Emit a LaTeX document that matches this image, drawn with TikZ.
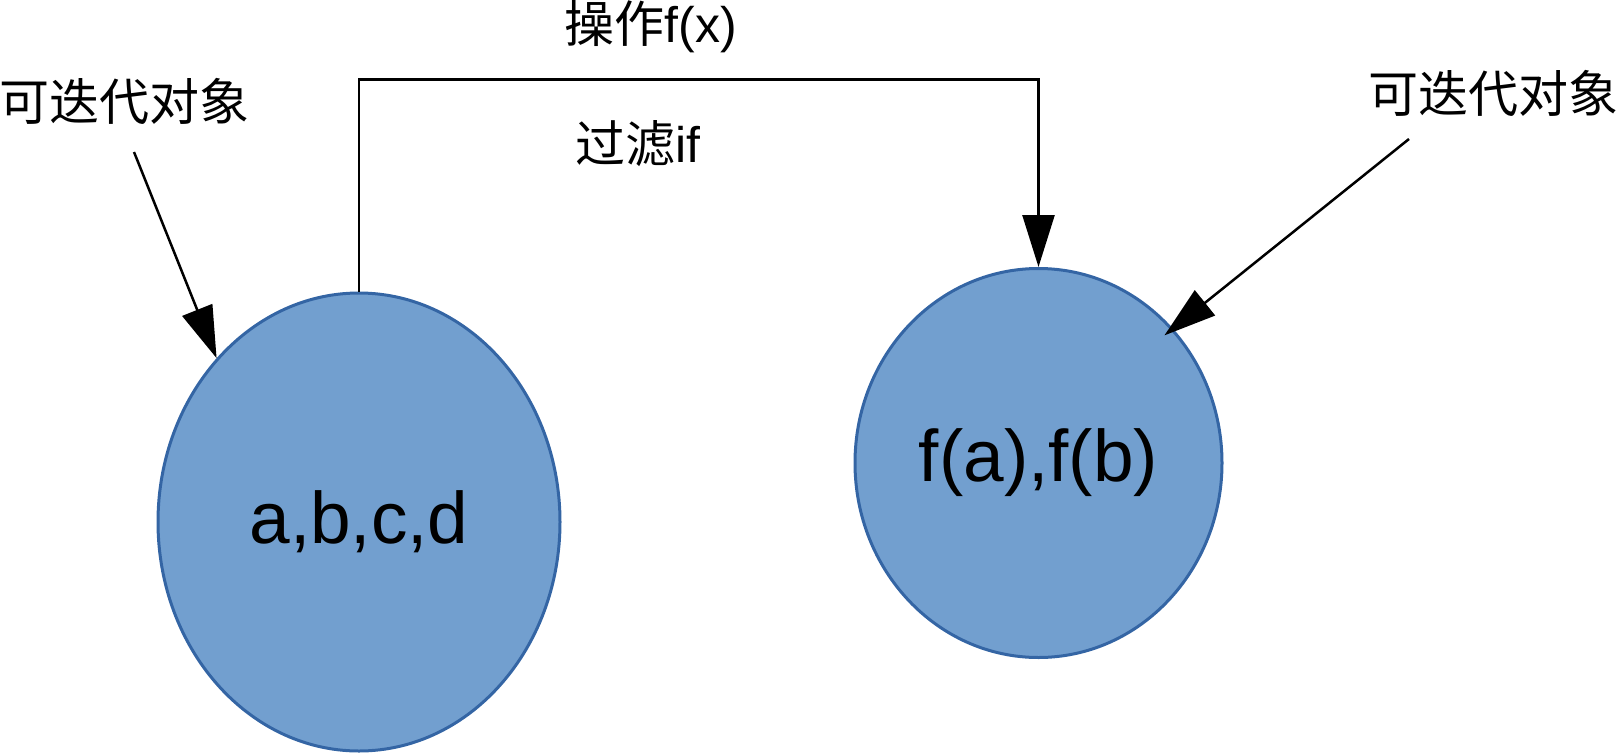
\documentclass[tikz,border=0pt]{standalone}
\usepackage{fontspec}
\setmainfont{Liberation Sans}
\newfontfamily\cjk{Noto Sans CJK SC}
\usetikzlibrary{shapes.geometric,arrows.meta}
\definecolor{blobfill}{HTML}{729FCF}
\definecolor{blobline}{HTML}{3465A4}
\tikzset{
  blob/.style={ellipse, draw=blobline, line width=3pt, fill=blobfill, inner sep=0pt,
    font=\fontsize{73}{80}\selectfont},
  lbl/.style={inner sep=0pt, font=\fontsize{50}{56}\selectfont},
  conn/.style={line width=2.5pt, draw=black, -{Triangle[length=52pt,width=32pt]}},
}
\begin{document}
\begin{tikzpicture}[x=1pt,y=-1pt]
\useasboundingbox (0,0) rectangle (1619,755);
\node[blob, minimum width=402pt, minimum height=458pt] (A) at (359,522) {a,b,c,d};
\node[blob, minimum width=367pt, minimum height=389pt] (B) at (1038.5,463) {f(a),f(b)};
\node[lbl] (la) at (124,101) {\cjk 可迭代对象};
\node[lbl] (ra) at (1493,93) {\cjk 可迭代对象};
\node[lbl] (op) at (651,27) {{\cjk 操作}f(x)};
\node[lbl] (flt) at (638,144) {{\cjk 过滤}if};
\coordinate (ls) at (134,152);
\coordinate (rs) at (1409,139);
\coordinate (top) at (700,79.5);
\draw[conn] (ls) -- (A.131);
\draw[conn, shorten >=-11pt] (rs) -- (B.45);
\draw[conn] (A.north) |- (top) -| (B.north);
\end{tikzpicture}
\end{document}
